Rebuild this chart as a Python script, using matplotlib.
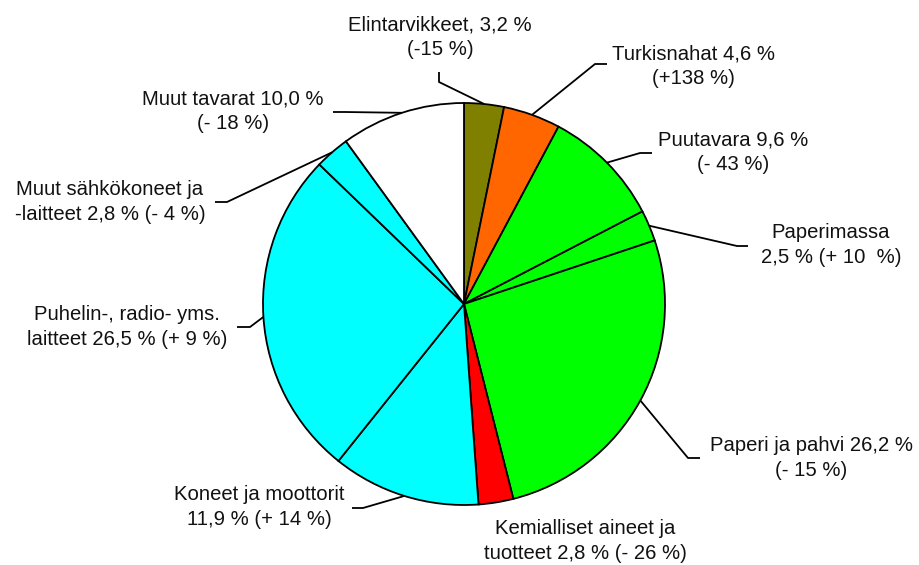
import matplotlib.pyplot as plt
import numpy as np

plt.rcParams['font.family'] = ['Liberation Sans', 'DejaVu Sans']

# Export shares (%) by product group, clockwise from 12 o'clock
shares = [3.2, 4.6, 9.6, 2.5, 26.2, 2.8, 11.9, 26.5, 2.8, 10.0]
labels = [
    'Elintarvikkeet, 3,2 %\n(-15 %)',
    'Turkisnahat 4,6 %\n(+138 %)',
    'Puutavara 9,6 %\n(- 43 %)',
    'Paperimassa\n2,5 % (+ 10  %)',
    'Paperi ja pahvi 26,2 %\n(- 15 %)',
    'Kemialliset aineet ja\ntuotteet 2,8 % (- 26 %)',
    'Koneet ja moottorit\n11,9 % (+ 14 %)',
    'Puhelin-, radio- yms.\nlaitteet 26,5 % (+ 9 %)',
    'Muut sähkökoneet ja\n-laitteet 2,8 % (- 4 %)',
    'Muut tavarat 10,0 %\n(- 18 %)',
]
colors = ['#808000', '#FF6600', '#00FF00', '#00FF00', '#00FF00',
          '#FF0000', '#00FFFF', '#00FFFF', '#00FFFF', '#FFFFFF']

# layout in pixel coordinates (origin top-left)
W, H = 919, 565
cx, cy, r = 464, 304, 201
text_pos = [(440, 37), (693, 66), (733, 152), (831, 245), (811, 458),
            (585, 541), (259, 507), (127, 327), (110, 202), (233, 111)]
# leader line: stub end, elbow (None = no leader)
leaders = [((439, 72), (439, 82)), ((607, 64), (595, 64)),
           ((652, 153), (640, 153)), ((748, 246), (737, 246)),
           ((700, 458), (688, 458)), None,
           ((352, 508), (363, 508)), ((237, 327), (250, 327)),
           ((215, 202), (227, 202)), ((333, 112), (345, 112))]


def fy(y):
    return H - y


fig = plt.figure(figsize=(W / 100, H / 100), dpi=100)
ax = fig.add_axes([0, 0, 1, 1])

wedges, _ = ax.pie(shares, colors=colors, startangle=90, counterclock=False,
                   center=(cx, fy(cy)), radius=r,
                   wedgeprops=dict(edgecolor='black', linewidth=1.3))

ax.set_xlim(0, W)
ax.set_ylim(0, H)
ax.set_aspect('equal')
ax.axis('off')

for w, lab, (tx, ty), ld in zip(wedges, labels, text_pos, leaders):
    ax.text(tx, fy(ty), lab, ha='center', va='center', fontsize=14.6,
            color='#111111', linespacing=1.35)
    if ld is None:
        continue
    ang = np.deg2rad((w.theta1 + w.theta2) / 2)
    ex = cx + r * np.cos(ang)
    ey = fy(cy) + r * np.sin(ang)
    (sx, sy), (bx, by) = ld
    ax.plot([sx, bx, ex], [fy(sy), fy(by), ey], color='black', lw=1.3,
            solid_capstyle='butt')

fig.savefig('out.png', dpi=100, facecolor='white')
